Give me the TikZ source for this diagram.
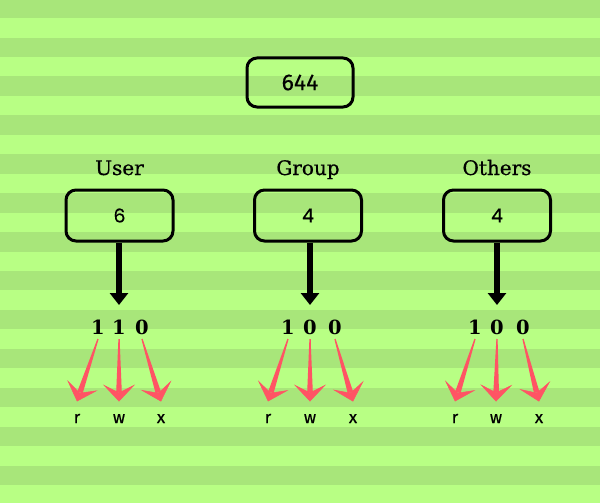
\documentclass[tikz,border=0pt]{standalone}
\usepackage{fontspec}
\setmainfont{DejaVu Serif}
\newfontfamily\labelfont[FakeBold=0.6]{DejaVu Serif}
\newfontfamily\sansfont[FakeBold=0.4]{Fira Sans}
\newfontfamily\roundfont[FakeBold=0.3]{Poppins}
\usetikzlibrary{arrows.meta,calc}
\definecolor{stripelight}{RGB}{184,255,132}
\definecolor{stripedark}{RGB}{168,230,122}
\definecolor{arrowred}{RGB}{255,84,100}
\tikzset{
  boxstyle/.style={draw=black, line width=3pt, rounded corners=10pt, inner sep=0pt},
  bigbox/.style={boxstyle, minimum width=106pt, minimum height=49pt, font=\sansfont\fontsize{23}{26}\selectfont},
  smallbox/.style={boxstyle, minimum width=107pt, minimum height=51pt, font=\roundfont\fontsize{19}{22}\selectfont},
  grouplabel/.style={inner sep=0pt, anchor=base, font=\labelfont\fontsize{20}{24}\selectfont},
  bit/.style={inner sep=0pt, font=\bfseries\fontsize{19.5}{22}\selectfont},
  letter/.style={inner sep=0pt, anchor=base, font=\sansfont\fontsize{17}{19}\selectfont},
  blackarrow/.style={draw=black, line width=6pt, shorten >=22pt, -{Triangle[length=12pt,width=18pt]}},
  redtip/.style={draw=arrowred, line width=0.5pt, -{Stealth[length=17pt,width=32pt,inset=8pt,fill=arrowred]}},
}
\newcommand\taperarrow[2]{%
  \coordinate (ta) at ($(#1.center)+(0,12)$);
  \coordinate (tb) at ($(#2.center)+(0,-17)$);
  \coordinate (tn) at ($(tb)!9.5pt!(ta)$);
  \fill[arrowred] ($(ta)!0.6pt!90:(tb)$) -- ($(tn)!2.8pt!-90:(ta)$) -- ($(tn)!2.8pt!90:(ta)$) -- ($(ta)!0.6pt!-90:(tb)$) -- cycle;
  \draw[redtip] (ta) -- (tb);
}
\begin{document}
\begin{tikzpicture}[x=1pt, y=-1pt]
\useasboundingbox (0,0) rectangle (600,503);
\fill[stripelight] (0,0) rectangle (600,503);
\foreach \i in {0,...,12} {
  \fill[stripedark] (0,{-1.3+38.9*\i}) rectangle (600,{-1.3+38.9*\i+19.45});
}
% top box
\node[bigbox] (p644) at (300,82.5) {644};
% group labels
\node[grouplabel] (luser) at (119.5,175) {User};
\node[grouplabel] (lgroup) at (308,175) {Group};
\node[grouplabel] (lothers) at (497,175) {Others};
% digit boxes
\node[smallbox] (ub) at (119.5,215.5) {6};
\node[smallbox] (gb) at (308,215.5) {4};
\node[smallbox] (ob) at (497,215.5) {4};
% bits
\node[bit] (u1) at (98,327) {1};
\node[bit] (u2) at (119,327) {1};
\node[bit] (u3) at (142,327) {0};
\node[bit] (g1) at (288,327) {1};
\node[bit] (g2) at (310,327) {0};
\node[bit] (g3) at (335,327) {0};
\node[bit] (o1) at (475,327) {1};
\node[bit] (o2) at (497,327) {0};
\node[bit] (o3) at (523,327) {0};
% letters
\node[letter] (ur) at (77,423) {r};
\node[letter] (uw) at (119,423) {w};
\node[letter] (ux) at (161,423) {x};
\node[letter] (gr) at (268,423) {r};
\node[letter] (gw) at (310,423) {w};
\node[letter] (gx) at (353,423) {x};
\node[letter] (or) at (455,423) {r};
\node[letter] (ow) at (496,423) {w};
\node[letter] (ox) at (539,423) {x};
% black arrows
\draw[blackarrow] (ub.south -| u2.center) -- (u2.center);
\draw[blackarrow] (gb.south -| g2.center) -- (g2.center);
\draw[blackarrow] (ob.south -| o2.center) -- (o2.center);
% red arrows
\taperarrow{u1}{ur}
\taperarrow{u2}{uw}
\taperarrow{u3}{ux}
\taperarrow{g1}{gr}
\taperarrow{g2}{gw}
\taperarrow{g3}{gx}
\taperarrow{o1}{or}
\taperarrow{o2}{ow}
\taperarrow{o3}{ox}
\end{tikzpicture}
\end{document}
